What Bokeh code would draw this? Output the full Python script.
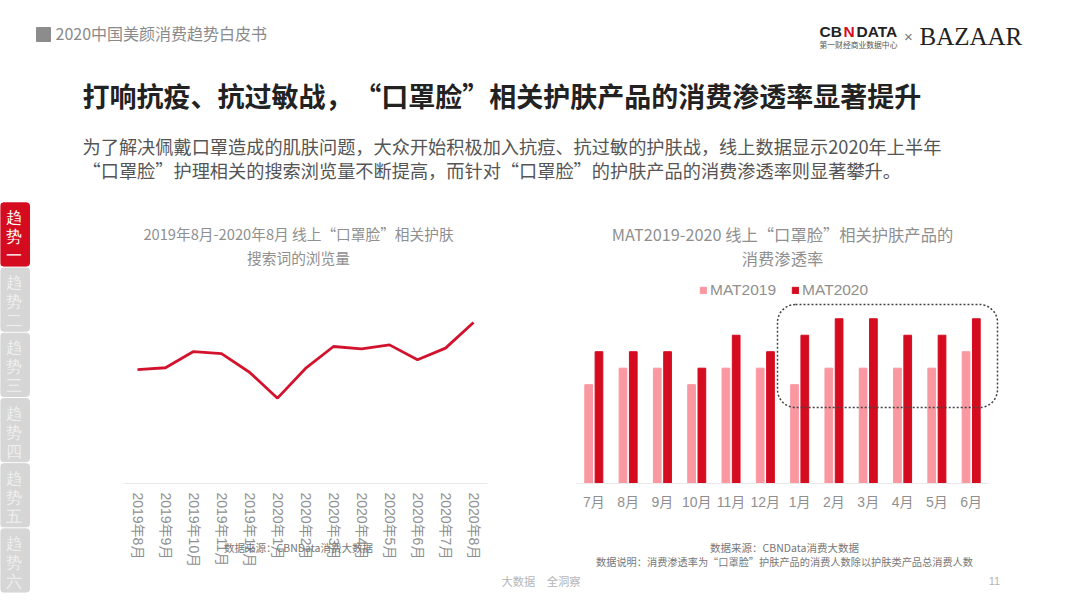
# -*- coding: utf-8 -*-
from bokeh.embed import file_html
from bokeh.layouts import column, row
from bokeh.models import BoxAnnotation, Label, Range1d
from bokeh.plotting import figure
from bokeh.resources import INLINE
from bokeh.transform import dodge

# left chart: browsing volume of search terms (index, axis hidden in the original)
search_months = ["2019年8月", "2019年9月", "2019年10月", "2019年11月", "2019年12月", "2020年1月", "2020年2月",
                 "2020年3月", "2020年4月", "2020年5月", "2020年6月", "2020年7月", "2020年8月"]
search_views = [63.2, 64.3, 73.3, 72.1, 61.8, 47.4, 63.9, 76.1, 74.8, 77.0, 68.7, 75.2, 89.4]

# right chart: penetration rate
mat_months = ["7月", "8月", "9月", "10月", "11月", "12月", "1月", "2月", "3月", "4月", "5月", "6月"]
mat2019 = [6, 7, 7, 6, 7, 7, 6, 7, 7, 7, 7, 8]
mat2020 = [8, 8, 8, 7, 9, 8, 9, 10, 10, 9, 9, 10]

# side tabs
tab_numbers = ["一", "二", "三", "四", "五", "六"]

CJK = "Noto Sans CJK SC"
LATIN = "Liberation Sans, Noto Sans CJK SC"
GREY = "#8f8f8f"
RED = "#d50c20"
PINK = "#fa98a2"
AXIS = "#e9e9e9"


def blank(width, height, **kw):
    p = figure(width=width, height=height, output_backend="svg", toolbar_location=None,
               x_axis_location=None, y_axis_location=None, min_border=0, **kw)
    p.outline_line_color = None
    p.grid.visible = False
    return p


def txt(p, x, y, text, size, color, font=CJK, align="left", style="normal"):
    p.add_layout(Label(x=x, y=y, x_units="canvas", y_units="canvas", text=text, text_font=font,
                       text_font_size=f"{size}px", text_color=color, text_align=align,
                       text_baseline="middle", text_font_style=style))


def chart(width, factors, y_range, pad):
    # the frame fills the figure and the axis sits at value 0, so that titles and
    # notes around the plot are not clipped by the frame
    p = figure(width=width, height=403, x_range=factors, y_range=y_range, output_backend="svg",
               toolbar_location=None, y_axis_location=None, min_border=0)
    p.x_range.range_padding = pad
    p.x_range.range_padding_units = "absolute"
    p.outline_line_color = None
    p.grid.visible = False
    ax = p.xaxis[0]
    ax.fixed_location = 0
    ax.bounds = (0, len(factors))
    ax.major_label_text_font = LATIN
    ax.major_label_text_font_size = "14px"
    ax.major_label_text_color = GREY
    ax.major_tick_line_color = None
    ax.minor_tick_line_color = None
    ax.axis_line_color = AXIS
    return p


# header
head = blank(1080, 200, x_range=Range1d(0, 1080), y_range=Range1d(200, 0))
head.quad(left=[36], right=[50], top=[27], bottom=[41], color="#8c8c8c")
txt(head, 55, 32, "2020中国美颜消费趋势白皮书", 16, "#8a8a8a")
txt(head, 819, 31, "CB", 15.5, "#222222", LATIN, style="bold")
txt(head, 843, 31, "N", 15.5, RED, LATIN, style="bold")
txt(head, 856, 31, "DATA", 15.5, "#222222", LATIN, style="bold")
txt(head, 819, 44, "第一财经商业数据中心", 7.8, "#555555")
txt(head, 908, 36, "×", 15, "#777777", LATIN, align="center")
txt(head, 919, 36, "BAZAAR", 25, "#222222", "Liberation Serif")
txt(head, 82, 95, "打响抗疫、抗过敏战，\u200a“口罩脸”相关护肤产品的消费渗透率显著提升", 27, "#222222", style="bold")
txt(head, 82, 145, "为了解决佩戴口罩造成的肌肤问题，大众开始积极加入抗痘、抗过敏的护肤战，线上数据显示2020年上半年", 18.2, "#555555")
txt(head, 82, 169, "“口罩脸”护理相关的搜索浏览量不断提高，而针对“口罩脸”的护肤产品的消费渗透率则显著攀升。", 18.2, "#555555")

# side tabs
side = blank(110, 403, x_range=Range1d(0, 3.79), y_range=Range1d(5.66, -0.521))
tab_pos = list(range(len(tab_numbers)))
tab_colors = [RED] + ["#d6d6d6"] * 5
text_colors = ["#ffffff"] + ["#efefef"] * 5
side.hbar(y=tab_pos, left=0, right=1, height=0.97, color=tab_colors, border_radius=3)
for chars, offset in ((["趋"] * 6, -17), (["势"] * 6, 2), (tab_numbers, 21)):
    side.text(x=[0.46] * 6, y=tab_pos, text=chars, y_offset=offset, text_color=text_colors,
              text_font=CJK, text_font_size="16px", text_align="center", text_baseline="middle")

# line chart, 1.8px per unit with the baseline at y=483
line = chart(390, search_months, Range1d(-66.67, 157.2), 0.464)
line.line(search_months, search_views, line_color="#d3132d", line_width=2.8)
line.xaxis.major_label_orientation = "vertical"
line.xaxis.major_label_standoff = 3
txt(line, 188, 33, "2019年8月-2020年8月 线上“口罩脸”相关护肤", 14.7, GREY, align="center")
txt(line, 188, 57, "搜索词的浏览量", 14.7, GREY, align="center")
txt(line, 188, 347, "数据来源：CBNData消费大数据", 10.5, "#777777", align="center")

# bar chart, 16.47px per point with the baseline at y=483
bar = chart(564, mat_months, Range1d(-7.286, 17.18), 2.22)
src = {"month": mat_months, "mat2019": mat2019, "mat2020": mat2020}
bar.vbar(x=dodge("month", -0.15, range=bar.x_range), top="mat2019", width=0.225, source=src, color=PINK,
         legend_label="MAT2019")
bar.vbar(x=dodge("month", 0.15, range=bar.x_range), top="mat2020", width=0.225, source=src, color=RED,
         legend_label="MAT2020")
bar.xaxis.major_label_standoff = 5

leg = bar.legend[0]
leg.location = (199, 304)
leg.orientation = "horizontal"
leg.background_fill_alpha = 0
leg.border_line_color = None
leg.padding = 0
leg.margin = 0
leg.spacing = 15
leg.glyph_width = 8
leg.glyph_height = 8
leg.label_standoff = 3
leg.label_text_font = LATIN
leg.label_text_font_size = "15.5px"
leg.label_text_color = GREY

bar.add_layout(BoxAnnotation(left=277, right=497, top=104, bottom=207, left_units="canvas", right_units="canvas",
                             top_units="canvas", bottom_units="canvas", fill_alpha=0, line_color="#444444",
                             line_alpha=1, line_width=1.5, line_dash=[2, 2], border_radius=18))
txt(bar, 282, 33, "MAT2019-2020 线上“口罩脸”相关护肤产品的", 16.3, GREY, align="center")
txt(bar, 282, 57, "消费渗透率", 16.3, GREY, align="center")
txt(bar, 284, 347, "数据来源：CBNData消费大数据", 10.5, "#777777", align="center")
txt(bar, 284, 361, "数据说明：消费渗透率为“口罩脸”护肤产品的消费人数除以护肤类产品总消费人数", 10.2, "#777777", align="center")
txt(bar, 1, 380, "大数据\u3000全洞察", 11.3, "#b5b5b5")
txt(bar, 494, 380, "11", 11, "#b5b5b5", LATIN, align="center")

page = column(head, row(side, line, bar, spacing=0), spacing=0)

open("out.html", "w").write(file_html(page, INLINE))
